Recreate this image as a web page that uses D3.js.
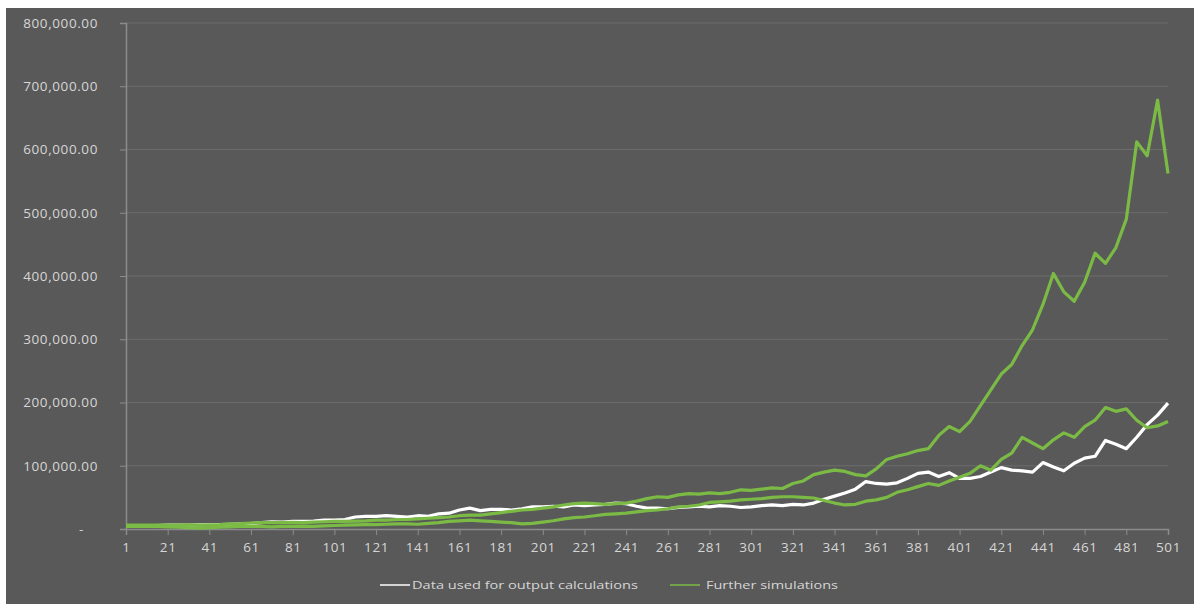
<!DOCTYPE html>
<html>
<head>
<meta charset="utf-8">
<script src="https://cdn.jsdelivr.net/npm/d3@7"></script>
<style>
  html, body { margin: 0; padding: 0; background: #ffffff; }
  svg { display: block; }
  text { font-family: "Open Sans", "DejaVu Sans", sans-serif; fill: #d6d6d6; }
</style>
</head>
<body>
<svg id="chart" width="1194" height="604"></svg>
<script>
// ---- data (step of 5 periods) ----
const periods = [1,6,11,16,21,26,31,36,41,46,51,56,61,66,71,76,81,86,91,96,101,106,111,116,121,126,131,136,141,146,151,156,161,166,171,176,181,186,191,196,201,206,211,216,221,226,231,236,241,246,251,256,261,266,271,276,281,286,291,296,301,306,311,316,321,326,331,336,341,346,351,356,361,366,371,376,381,386,391,396,401,406,411,416,421,426,431,436,441,446,451,456,461,466,471,476,481,486,491,496,501];

const dataUsed = [5000,5000,5000,5500,6000,6000,6000,6500,7000,7000,7500,8000,8500,10000,11500,11000,12000,12000,12500,14000,14000,15000,19000,20000,20000,21000,20000,19000,21000,20000,24000,25000,30000,33000,29000,31000,31000,30000,32000,35000,35000,36000,35000,38000,37000,38000,39000,41000,40000,36000,33000,33000,32000,34000,35000,36000,35000,37000,36000,34000,35000,37000,38000,37000,39000,38000,41000,47000,52000,57000,63000,75000,72000,71000,73000,80000,88000,90000,83000,89000,80000,80000,83000,90000,97000,93000,92000,90000,105000,98000,92000,104000,112000,115000,140000,134000,127000,145000,165000,180000,199000];

const simulationA = [6000,6000,6000,6000,6000,6000,6500,6000,6500,7000,8000,8500,9500,10000,10000,10000,10500,10000,11000,11500,12000,12000,12500,13000,14000,14000,15000,15000,16000,17000,18000,19000,21000,22000,22000,24000,26000,28000,30000,31000,33000,35000,38000,40000,41000,40000,39000,40000,41000,44000,48000,51000,50000,54000,56000,55000,57000,56000,58000,62000,61000,63000,65000,64000,72000,76000,86000,90000,93000,91000,86000,84000,95000,110000,115000,119000,124000,127000,148000,162000,154000,170000,195000,220000,245000,260000,290000,315000,355000,404000,375000,360000,390000,436000,420000,445000,490000,612000,590000,678000,562000];

const simulationB = [4000,4000,4000,4000,3500,3000,2000,1500,2000,3000,3500,4000,4000,4000,3500,4000,4000,4500,4000,5000,5500,6000,6500,7000,7000,7500,8000,8000,7500,9000,10000,12000,13000,14000,13000,12000,11000,10000,8000,9000,11000,13000,16000,18000,19000,21000,23000,24000,25000,27000,29000,30000,32000,35000,36000,38000,42000,43000,44000,46000,47000,48000,50000,51000,51000,50000,49000,45000,41000,38000,39000,44000,46000,50000,58000,62000,67000,72000,69000,76000,82000,88000,100000,93000,110000,120000,145000,136000,127000,141000,152000,145000,162000,172000,192000,186000,190000,172000,160000,163000,170000];

const yTicks = [0,100000,200000,300000,400000,500000,600000,700000,800000];
const xTicks = [1,21,41,61,81,101,121,141,161,181,201,221,241,261,281,301,321,341,361,381,401,421,441,461,481,501];
const legendLabels = ["Data used for output calculations", "Further simulations"];

// ---- drawing ----
const svg = d3.select("#chart");
const C = { bg: "#595959", grid: "#6c6c6c", axis: "#8c8c8c", white: "#ffffff", green: "#7bbb45" };

svg.append("rect").attr("x", 6).attr("y", 8).attr("width", 1188).attr("height", 596).attr("fill", C.bg);

const x = d3.scaleLinear().domain([1, 501]).range([126, 1168]);
const y = d3.scaleLinear().domain([0, 800000]).range([529, 23]);

// gridlines
svg.append("g").selectAll("line").data(yTicks.filter(d => d > 0)).join("line")
  .attr("x1", x(1)).attr("x2", x(501))
  .attr("y1", d => y(d)).attr("y2", d => y(d))
  .attr("stroke", C.grid).attr("stroke-width", 1.2);

// y axis
const fmt = d => d === 0 ? "-" : d3.format(",.2f")(d);
const yAxis = svg.append("g").attr("transform", `translate(${x(1)},0)`)
  .call(d3.axisLeft(y).tickValues(yTicks).tickSize(6).tickPadding(22).tickFormat(fmt));
yAxis.select(".domain").attr("stroke", C.axis).attr("stroke-width", 1.5);
yAxis.selectAll(".tick line").attr("stroke", C.axis);
yAxis.selectAll("text").attr("fill", "#d6d6d6").style("font-size", "13.5px")
  .style("letter-spacing", "0.6px")
  .style("font-family", "'Open Sans', sans-serif");
yAxis.selectAll(".tick text").filter(d => d === 0).attr("dx", -14);

// x axis
const xAxis = svg.append("g").attr("transform", `translate(0,${y(0)})`)
  .call(d3.axisBottom(x).tickValues(xTicks).tickSize(6).tickPadding(7).tickFormat(d3.format("d")));
xAxis.select(".domain").attr("stroke", C.axis).attr("stroke-width", 1.5);
xAxis.selectAll(".tick line").attr("stroke", C.axis);
xAxis.selectAll("text").attr("fill", "#d6d6d6").style("font-size", "13.5px")
  .style("letter-spacing", "0.6px")
  .style("font-family", "'Open Sans', sans-serif");

// lines
const line = d3.line().x((d, i) => x(periods[i])).y(d => y(d));
const series = [
  { values: dataUsed, color: C.white },
  { values: simulationB, color: C.green },
  { values: simulationA, color: C.green }
];
svg.append("g").selectAll("path").data(series).join("path")
  .attr("d", d => line(d.values))
  .attr("fill", "none")
  .attr("stroke", d => d.color)
  .attr("stroke-width", 3.2)
  .attr("stroke-linejoin", "round");

// legend
const legend = [
  { label: legendLabels[0], color: C.white, x0: 380, tx: 412, len: 226 },
  { label: legendLabels[1], color: C.green, x0: 670, tx: 706, len: 132 }
];
const lg = svg.append("g");
legend.forEach(l => {
  lg.append("line").attr("x1", l.x0).attr("x2", l.x0 + 30).attr("y1", 585).attr("y2", 585)
    .attr("stroke", l.color).attr("stroke-width", 1.5);
  lg.append("text").attr("x", l.tx).attr("y", 589).text(l.label)
    .style("font-size", "11.5px").attr("textLength", l.len).attr("lengthAdjust", "spacingAndGlyphs");
});
</script>
</body>
</html>
